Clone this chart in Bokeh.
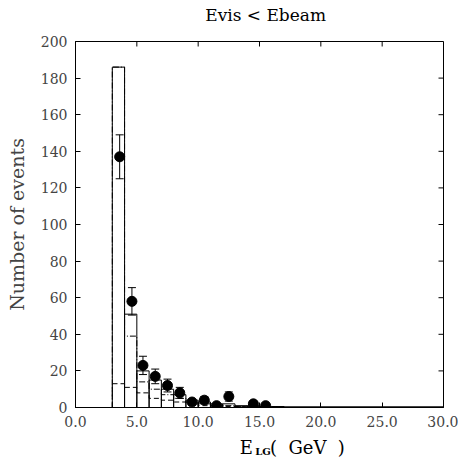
import numpy as np
from bokeh.plotting import figure
from bokeh.layouts import column
from bokeh.core.properties import value
from bokeh.models import (Whisker, TeeHead, ColumnDataSource, FixedTicker,
                          PrintfTickFormatter, Range1d)
from bokeh.embed import file_html
from bokeh.resources import INLINE

# ---- data ----
bin_lo = [3, 4, 5, 6, 7, 8, 9, 10, 11, 12, 13, 14, 15, 16]
mc_total = [186, 51, 20, 15, 10, 7, 4, 3, 2, 2, 1, 1, 0.5, 0.5]
mc_dashdot = [186, 39, 14, 10, 7, 5, 3, 2, 1.5, 1, 0.5, 0.5, 0.3, 0.3]
mc_dashed = [13, 11, 8, 5, 4, 3, 2, 1, 1, 0.5, 0.5, 0.3, 0.2, 0.2]

data_x = [3.6, 4.6, 5.5, 6.5, 7.5, 8.5, 9.5, 10.5, 11.5, 12.5, 14.5, 15.5]
data_y = [137, 58, 23, 17, 12, 8, 3, 4, 1, 6, 2, 1]
data_err = [12, 7.5, 5, 4, 3.5, 3, 1.7, 2, 1, 2.5, 1.4, 1]

x_ticks = [0, 5, 10, 15, 20, 25, 30]
y_ticks = [0, 20, 40, 60, 80, 100, 120, 140, 160, 180, 200]
x_max, y_max = 30, 200

FONT = "DejaVu Serif"
W = 458
BL, BR = 75, 15
xr = Range1d(0, x_max)


def text_strip(h):
    f = figure(width=W, height=h, output_backend="svg", toolbar_location=None,
               x_range=xr, y_range=Range1d(0, h),
               x_axis_location=None, y_axis_location=None, title=None,
               min_border_left=BL, min_border_right=BR, min_border_top=0,
               min_border_bottom=0, outline_line_color=None,
               border_fill_color="white", background_fill_color="white")
    f.grid.visible = False
    return f

# ---- title strip ----
top = text_strip(28)
top.text(x=[15.5], y=[14], text=["Evis < Ebeam"], text_font=value(FONT),
         text_font_size="17px", text_font_style="normal", text_baseline="middle",
         text_align="center", text_color="black")

# ---- main plot ----
p = figure(width=W, height=404, output_backend="svg", toolbar_location=None,
           x_range=xr, y_range=Range1d(0, y_max), title=None,
           min_border_left=BL, min_border_right=BR, min_border_top=13, min_border_bottom=25)
p.grid.visible = False
p.outline_line_color = "black"
p.background_fill_color = "white"
p.border_fill_color = "white"

for ax in p.xaxis:
    ax.ticker = FixedTicker(ticks=x_ticks)
    ax.formatter = PrintfTickFormatter(format="%.1f")
for ax in p.yaxis:
    ax.ticker = FixedTicker(ticks=y_ticks)
    ax.axis_label = "Number of events"
    ax.axis_label_text_font = FONT
    ax.axis_label_text_font_size = "19px"
    ax.axis_label_text_font_style = "normal"
    ax.axis_label_standoff = 10

for ax in list(p.xaxis) + list(p.yaxis):
    ax.major_tick_in = 5
    ax.major_tick_out = 0
    ax.minor_tick_line_color = None
    ax.major_label_text_font = FONT
    ax.major_label_text_font_size = "14px"
    ax.major_label_standoff = 8
    ax.axis_line_color = "black"

# inward ticks on the top and right edges
p.ray(x=x_ticks, y=y_max, length=5, length_units="screen", angle=-np.pi / 2,
      line_color="black", line_width=1)
p.ray(x=x_max, y=y_ticks, length=5, length_units="screen", angle=np.pi,
      line_color="black", line_width=1)


def stairs(lo, vals):
    xs, ys = [lo[0]], [0]
    for l, v in zip(lo, vals):
        xs += [l, l + 1]
        ys += [v, v]
    xs.append(lo[-1] + 1)
    ys.append(0)
    return xs, ys

# solid histogram as boxes
lo = np.array(bin_lo, dtype=float)
p.quad(left=lo, right=lo + 1, bottom=0, top=mc_total, fill_color=None,
       line_color="black", line_width=1)
p.line([16, x_max], [0.4, 0.4], line_color="black", line_width=1)

xs, ys = stairs(bin_lo, mc_dashdot)
p.line(xs, ys, line_color="black", line_width=1, line_dash="6 2 1 2")
xs, ys = stairs(bin_lo, mc_dashed)
p.line(xs, ys, line_color="black", line_width=1, line_dash="5 3")

# data points with errors
src = ColumnDataSource(dict(x=data_x, y=data_y,
                            lo=[y - e for y, e in zip(data_y, data_err)],
                            hi=[y + e for y, e in zip(data_y, data_err)]))
p.add_layout(Whisker(source=src, base="x", lower="lo", upper="hi",
                     line_color="black", line_width=1,
                     upper_head=TeeHead(size=8, line_color="black"),
                     lower_head=TeeHead(size=8, line_color="black")))
p.scatter("x", "y", source=src, size=10, fill_color="black", line_color="black")

# ---- x-axis title strip (E with subscript LG) ----
lab = text_strip(30)
lab.text(x=[13.4], y=[15], text=["E"], text_font=value(FONT), text_font_size="18px",
         text_baseline="middle", text_align="left", text_color="black")
lab.text(x=[14.65], y=[11], text=["LG"], text_font=value(FONT), text_font_size="10px",
         text_font_style="bold", text_baseline="middle", text_align="left", text_color="black")
lab.text(x=[15.85], y=[15], text=["(\u00a0\u00a0GeV\u00a0\u00a0)"], text_font=value(FONT),
         text_font_size="18px", text_baseline="middle", text_align="left", text_color="black")

layout = column(top, p, lab, spacing=0)
open("out.html", "w").write(file_html(layout, INLINE))
